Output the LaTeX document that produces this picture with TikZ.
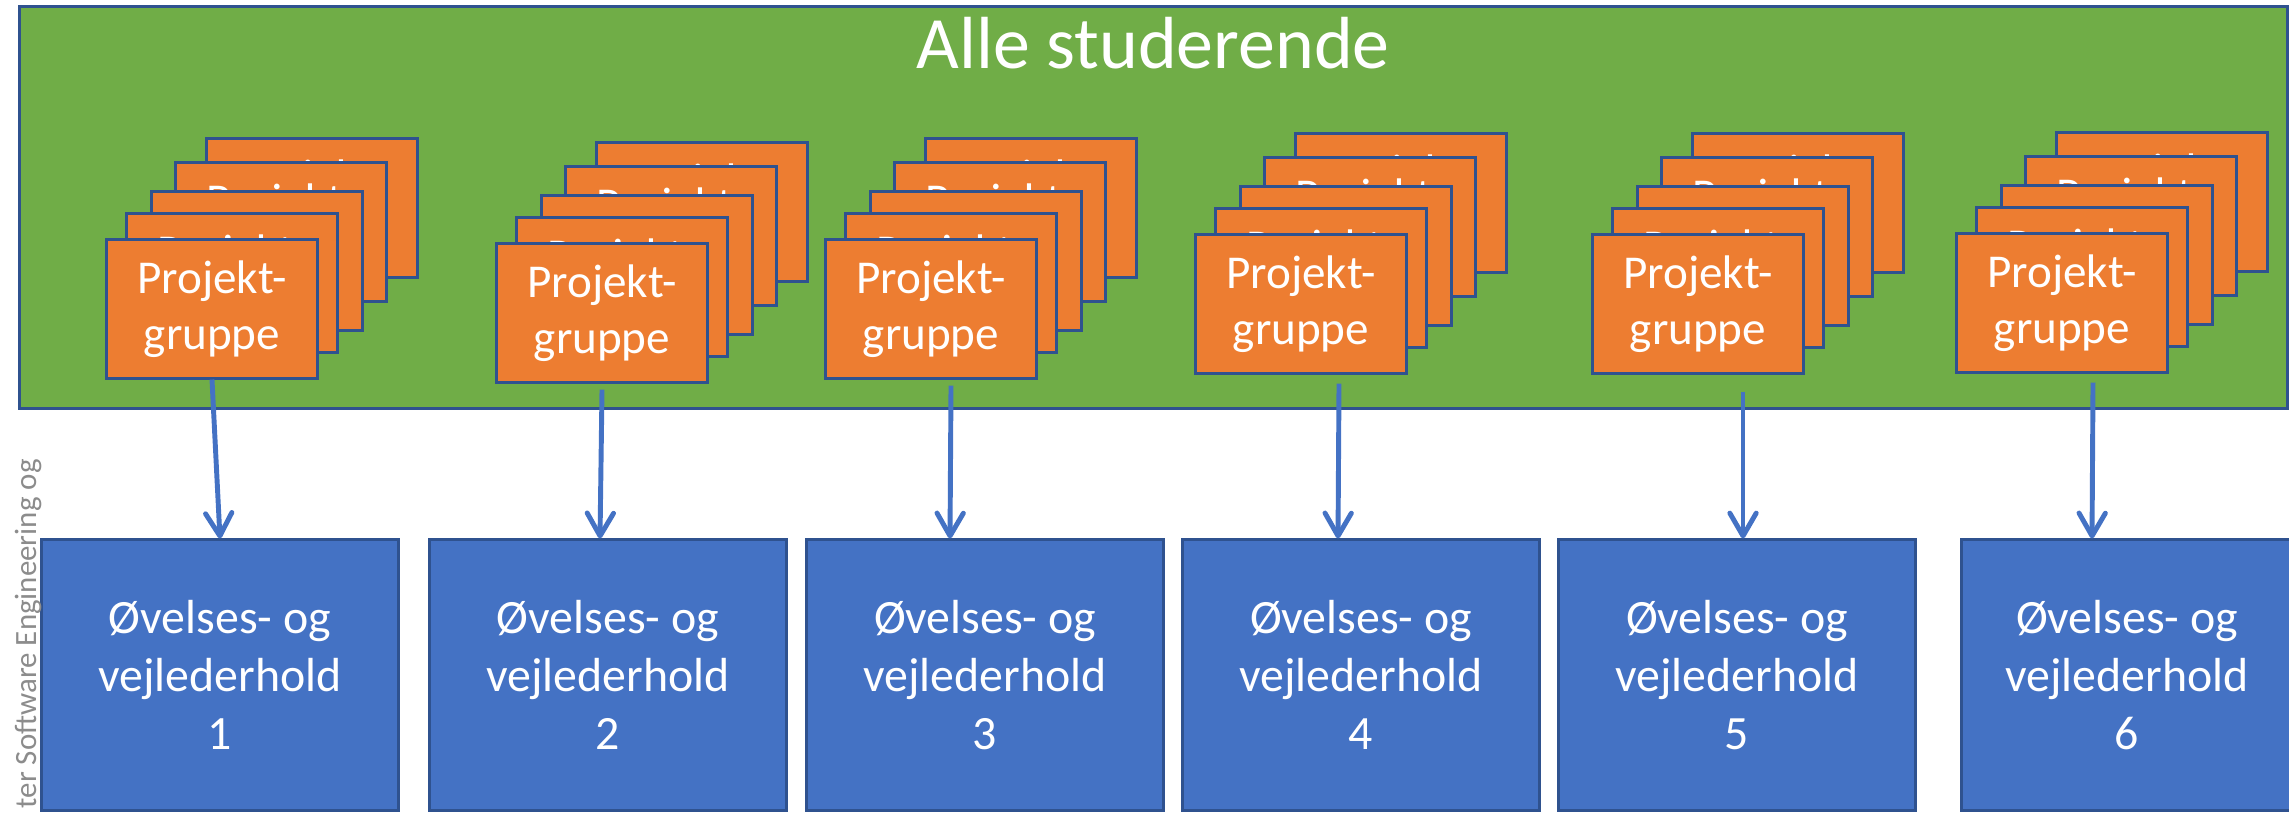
\documentclass[tikz,border=0pt]{standalone}
\usepackage{fontspec}
\setmainfont{Carlito}
\usepackage{tikz}
\usetikzlibrary{arrows.meta,calc}
\definecolor{gron}{HTML}{70AD47}
\definecolor{orange}{HTML}{ED7D31}
\definecolor{blaa}{HTML}{4472C4}
\definecolor{kant}{HTML}{2F528F}
\definecolor{graa}{HTML}{8C8C8C}
% en stak projektgrupper, #1 = navn, #2 = midten af forreste kasse
\newcommand{\Stak}[2]{%
  \node(#1E)[gruppe] at ($(#2)+(100,-101)$) {Projekt-\\gruppe};
  \node(#1D)[gruppe] at ($(#2)+(69,-77)$) {Projekt-\\gruppe};
  \node(#1C)[gruppe] at ($(#2)+(45,-48)$) {Projekt-\\gruppe};
  \node(#1B)[gruppe] at ($(#2)+(20,-26)$) {Projekt-\\gruppe};
  \node(#1)[gruppe] at (#2) {Projekt-\\gruppe};}

\begin{document}
\begin{tikzpicture}[x=0.01cm,y=-0.01cm]
          \tikzstyle{alle} = [draw=kant, line width=0.85pt, fill=gron,
            minimum width=22.67cm, minimum height=4.01cm, inner sep=0pt]
          \tikzstyle{gruppe} = [draw=kant, line width=0.85pt, fill=orange, text=white,
            align=center, minimum width=2.1cm, minimum height=1.38cm, inner sep=0pt,
            font=\fontsize{13.4}{15.9}\selectfont]
          \tikzstyle{hold} = [draw=kant, line width=0.85pt, fill=blaa, text=white,
            align=center, minimum width=3.56cm, minimum height=2.7cm, inner sep=0pt,
            font=\fontsize{13.6}{16.5}\selectfont]
          \tikzstyle{line} = [draw=blaa, line width=1.4pt,
            -{Straight Barb[length=6.5pt,width=7.5pt,round]}]

          \useasboundingbox (0,0) rectangle (2289,812);
          \clip (0,0) rectangle (2289,812);

          \node(Studerende)[alle] at (1153.5,207.5) {};
          \node(Titel)[text=white, anchor=base, font=\fontsize{21}{25}\selectfont] at (1153,68) {Alle studerende};

          \Stak{Gruppe1}{212,309}
          \Stak{Gruppe2}{602,313}
          \Stak{Gruppe3}{931,309}
          \Stak{Gruppe4}{1301,304}
          \Stak{Gruppe5}{1698,304}
          \Stak{Gruppe6}{2062,303}

          \node(Hold1)[hold] at (220,675) {Øvelses- og\\vejlederhold\\1};
          \node(Hold2)[hold] at (608,675) {Øvelses- og\\vejlederhold\\2};
          \node(Hold3)[hold] at (985,675) {Øvelses- og\\vejlederhold\\3};
          \node(Hold4)[hold] at (1361,675) {Øvelses- og\\vejlederhold\\4};
          \node(Hold5)[hold] at (1737,675) {Øvelses- og\\vejlederhold\\5};
          \node(Hold6)[hold, minimum width=3.3cm] at (2127,675) {Øvelses- og\\vejlederhold\\6};

          \draw[line] (Gruppe1.south) -- (Hold1.north);
          \draw[line] ($(Gruppe2.south)+(0,6)$) -- ($(Hold2.north)+(-8,0)$);
          \draw[line] ($(Gruppe3.south)+(20,6)$) -- ($(Hold3.north)+(-35,0)$);
          \draw[line] ($(Gruppe4.south)+(38,9)$) -- ($(Hold4.north)+(-23,0)$);
          \draw[line] ($(Gruppe5.south)+(45,17)$) -- ($(Hold5.north)+(6,0)$);
          \draw[line] ($(Gruppe6.south)+(31,9)$) -- ($(Hold6.north)+(-35,0)$);

          \node(Rand)[text=graa, rotate=90, anchor=base east, font=\fontsize{8.8}{11}\selectfont] at (36,447) {ter Software Engineering og};
        \end{tikzpicture}
\end{document}
